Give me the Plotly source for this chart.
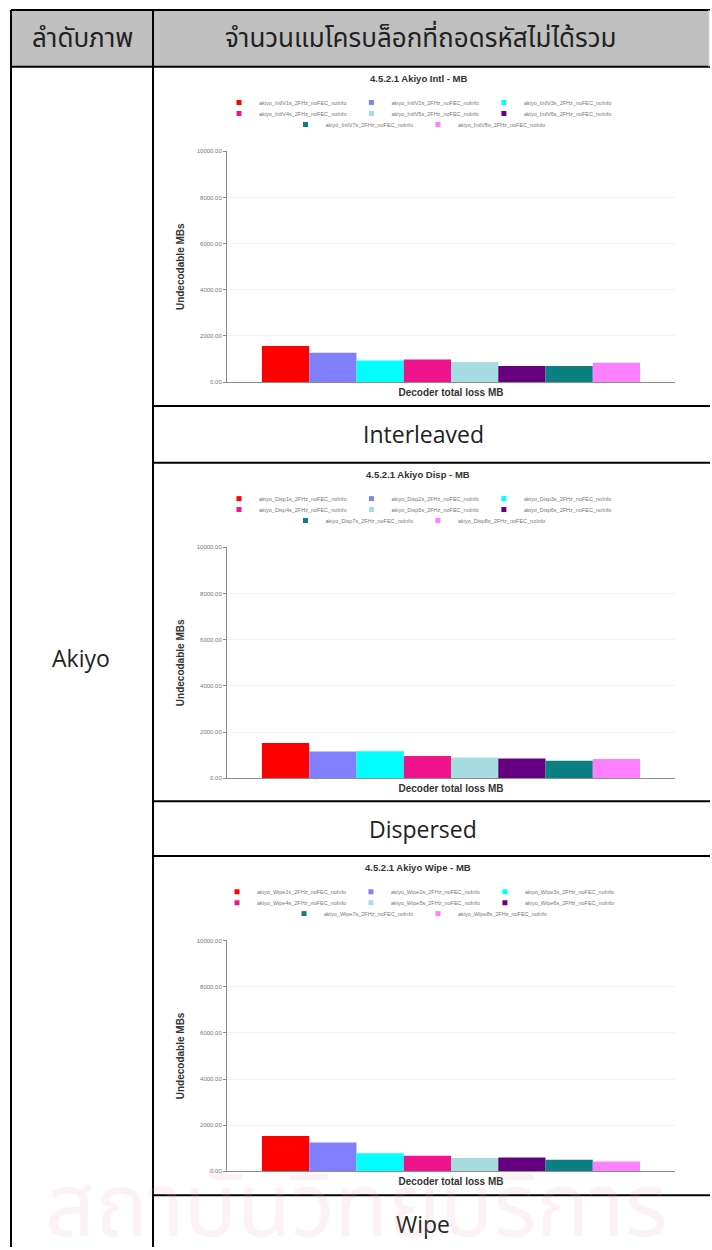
import plotly.graph_objects as go

W, H = 712, 1250

# ---- data -------------------------------------------------------------
series_colors = ["#FF0000", "#8080FF", "#00FFFF", "#F0148C",
                 "#A6DCE2", "#660080", "#0A8080", "#FF80FF"]

intl_names = ["akiyo_IntlV1s_2FHz_noFEC_noInfo", "akiyo_IntlV2s_2FHz_noFEC_noInfo",
              "akiyo_IntlV3s_2FHz_noFEC_noInfo", "akiyo_IntlV4s_2FHz_noFEC_noInfo",
              "akiyo_IntlV5s_2FHz_noFEC_noInfo", "akiyo_IntlV6s_2FHz_noFEC_noInfo",
              "akiyo_IntlV7s_2FHz_noFEC_noInfo", "akiyo_IntlV8s_2FHz_noFEC_noInfo"]
disp_names = ["akiyo_Disp1s_2FHz_noFEC_noInfo", "akiyo_Disp2s_2FHz_noFEC_noInfo",
              "akiyo_Disp3s_2FHz_noFEC_noInfo", "akiyo_Disp4s_2FHz_noFEC_noInfo",
              "akiyo_Disp5s_2FHz_noFEC_noInfo", "akiyo_Disp6s_2FHz_noFEC_noInfo",
              "akiyo_Disp7s_2FHz_noFEC_noInfo", "akiyo_Disp8s_2FHz_noFEC_noInfo"]
wipe_names = ["akiyo_Wipe1s_2FHz_noFEC_noInfo", "akiyo_Wipe2s_2FHz_noFEC_noInfo",
              "akiyo_Wipe3s_2FHz_noFEC_noInfo", "akiyo_Wipe4s_2FHz_noFEC_noInfo",
              "akiyo_Wipe5s_2FHz_noFEC_noInfo", "akiyo_Wipe6s_2FHz_noFEC_noInfo",
              "akiyo_Wipe7s_2FHz_noFEC_noInfo", "akiyo_Wipe8s_2FHz_noFEC_noInfo"]

intl_values = [1565, 1275, 940, 985, 870, 700, 700, 840]
disp_values = [1530, 1160, 1170, 960, 900, 860, 760, 830]
wipe_values = [1535, 1250, 790, 675, 575, 600, 505, 430]

chart_titles = ["4.5.2.1 Akiyo Intl - MB", "4.5.2.1 Akiyo Disp - MB", "4.5.2.1 Akiyo Wipe - MB"]
captions = ["Interleaved", "Dispersed", "Wipe"]
y_ticks = [0, 2000, 4000, 6000, 8000, 10000]
y_ticktext = ["0.00", "2000.00", "4000.00", "6000.00", "8000.00", "10000.00"]
x_category = ["Decoder total loss MB"]

header_left = "ลำดับภาพ"
header_right = "จำนวนแมโครบล็อกที่ถอดรหัสไม่ได้รวม"
row_label = "Akiyo"
watermark = "สถาบันวิทยบริการ"

# ---- layout helpers (pixel -> paper) -----------------------------------
def fx(v):
    return v / W


def fy(v):
    return 1 - v / H


THAI = "Noto Sans Thai, Loma, Garuda, Tlwg Typo, Norasi, DejaVu Sans, sans-serif"
SANS = "Liberation Sans, Arial, sans-serif"
BODY = "Open Sans, Liberation Sans, sans-serif"

chart_tops = [64, 462, 857]      # top rule of each chart cell
caption_y = [433, 830, 1227]
row_rules = [405, 462, 802, 857, 1198]
plot_left, plot_right = 227, 675
chart_center = 418

fig = go.Figure()
layout_axes = {}
legends = {}
annotations = []

all_names = [intl_names, disp_names, wipe_names]
all_values = [intl_values, disp_values, wipe_values]

for ci in range(3):
    top = chart_tops[ci]
    xa = "x" if ci == 0 else f"x{ci + 1}"
    ya = "y" if ci == 0 else f"y{ci + 1}"
    xkey = "xaxis" if ci == 0 else f"xaxis{ci + 1}"
    ykey = "yaxis" if ci == 0 else f"yaxis{ci + 1}"

    names, values = all_names[ci], all_values[ci]
    for si, (name, val) in enumerate(zip(names, values)):
        fig.add_trace(go.Bar(
            x=x_category, y=[val], name=name, marker_color=series_colors[si],
            marker_line_width=0, showlegend=False, legendgroup=f"{ci}-{si}",
            xaxis=xa, yaxis=ya,
        ))
    # legend swatches: three legend rows per chart
    for si, name in enumerate(names):
        row = si // 3
        idx = ci * 3 + row + 1
        lname = "legend" if idx == 1 else f"legend{idx}"
        fig.add_trace(go.Scatter(
            x=[None], y=[None], mode="markers", name=name,
            marker=dict(symbol="square", size=5, color=series_colors[si]),
            legend=lname, legendgroup=f"{ci}-{si}", showlegend=True,
            xaxis=xa, yaxis=ya,
        ))
    for row in range(3):
        idx = ci * 3 + row + 1
        lname = "legend" if idx == 1 else f"legend{idx}"
        legends[lname] = dict(
            orientation="h", x=fx(chart_center), xanchor="center",
            y=fy(top + 36 + 11 * row), yanchor="middle",
            bgcolor="rgba(0,0,0,0)", borderwidth=0,
            font=dict(size=5.5, color="#777777", family=SANS),
            itemwidth=30, tracegroupgap=0,
        )

    layout_axes[xkey] = dict(
        domain=[fx(plot_left), fx(plot_right)], anchor=ya, type="category",
        range=[-0.5, 0.5], showticklabels=False, ticks="",
        showline=True, linecolor="#8C8C8C", linewidth=1, showgrid=False,
        zeroline=False, fixedrange=True,
        title=dict(text="Decoder total loss MB", standoff=6,
                   font=dict(size=10, color="#333333", family=SANS, weight="bold")),
    )
    layout_axes[ykey] = dict(
        domain=[fy(top + 317), fy(top + 85)], anchor=xa, range=[0, 10000],
        tickvals=y_ticks, ticktext=y_ticktext, ticks="outside", ticklen=3,
        tickcolor="#8C8C8C", tickfont=dict(size=6, color="#777777", family=SANS),
        showline=True, linecolor="#8C8C8C", linewidth=1,
        showgrid=True, gridcolor="#F3F3F3", zeroline=False, fixedrange=True,
        title=dict(text="Undecodable MBs", standoff=10,
                   font=dict(size=10, color="#333333", family=SANS, weight="bold")),
    )

    annotations.append(dict(
        text=chart_titles[ci], x=fx(chart_center), y=fy(top + 12),
        xref="paper", yref="paper", showarrow=False, xanchor="center", yanchor="middle",
        font=dict(size=9.5, color="#333333", family=SANS, weight="bold"),
    ))
    annotations.append(dict(
        text=captions[ci], x=fx(423), y=fy(caption_y[ci]),
        xref="paper", yref="paper", showarrow=False, xanchor="center", yanchor="middle",
        font=dict(size=23, color="#222222", family=BODY),
    ))

# table text
annotations += [
    dict(text=header_left, x=fx(82), y=fy(36), xref="paper", yref="paper",
         xanchor="center", yanchor="middle",
         showarrow=False, font=dict(size=26, color="#222222", family=THAI)),
    dict(text=header_right, x=fx(420), y=fy(36), xref="paper", yref="paper",
         xanchor="center", yanchor="middle",
         showarrow=False, font=dict(size=26, color="#222222", family=THAI)),
    dict(text=row_label, x=fx(81), y=fy(658), xref="paper", yref="paper",
         xanchor="center", yanchor="middle",
         showarrow=False, font=dict(size=23, color="#222222", family=BODY)),
    dict(text=watermark, x=fx(356), y=fy(1212), xref="paper", yref="paper",
         xanchor="center", yanchor="middle",
         showarrow=False, font=dict(size=88, color="rgba(235,160,190,0.15)", family=THAI)),
]

# table frame
line = dict(color="black", width=2)
shapes = [
    dict(type="rect", xref="paper", yref="paper", x0=fx(11), x1=fx(709),
         y0=fy(64), y1=fy(7), fillcolor="#C0C0C0", line=dict(width=0), layer="below"),
    dict(type="line", xref="paper", yref="paper", x0=fx(11), x1=fx(710), y0=fy(7), y1=fy(7), line=line),
    dict(type="line", xref="paper", yref="paper", x0=fx(11), x1=fx(710), y0=fy(64), y1=fy(64), line=line),
    dict(type="line", xref="paper", yref="paper", x0=fx(11), x1=fx(11), y0=fy(7), y1=fy(1250), line=line),
    dict(type="line", xref="paper", yref="paper", x0=fx(153), x1=fx(153), y0=fy(7), y1=fy(1250), line=line),
    dict(type="line", xref="paper", yref="paper", x0=fx(709), x1=fx(709), y0=fy(7), y1=fy(64),
         line=dict(color="#D8D8D8", width=1)),
]
for ry in row_rules:
    shapes.append(dict(type="line", xref="paper", yref="paper", x0=fx(153), x1=fx(710),
                       y0=fy(ry), y1=fy(ry), line=line))

fig.update_layout(
    width=W, height=H, margin=dict(l=0, r=0, t=0, b=0),
    paper_bgcolor="white", plot_bgcolor="white",
    barmode="group", bargap=0.156, bargroupgap=0,
    showlegend=True, annotations=annotations, shapes=shapes,
    **layout_axes, **legends,
)

fig.write_html("out.html")
